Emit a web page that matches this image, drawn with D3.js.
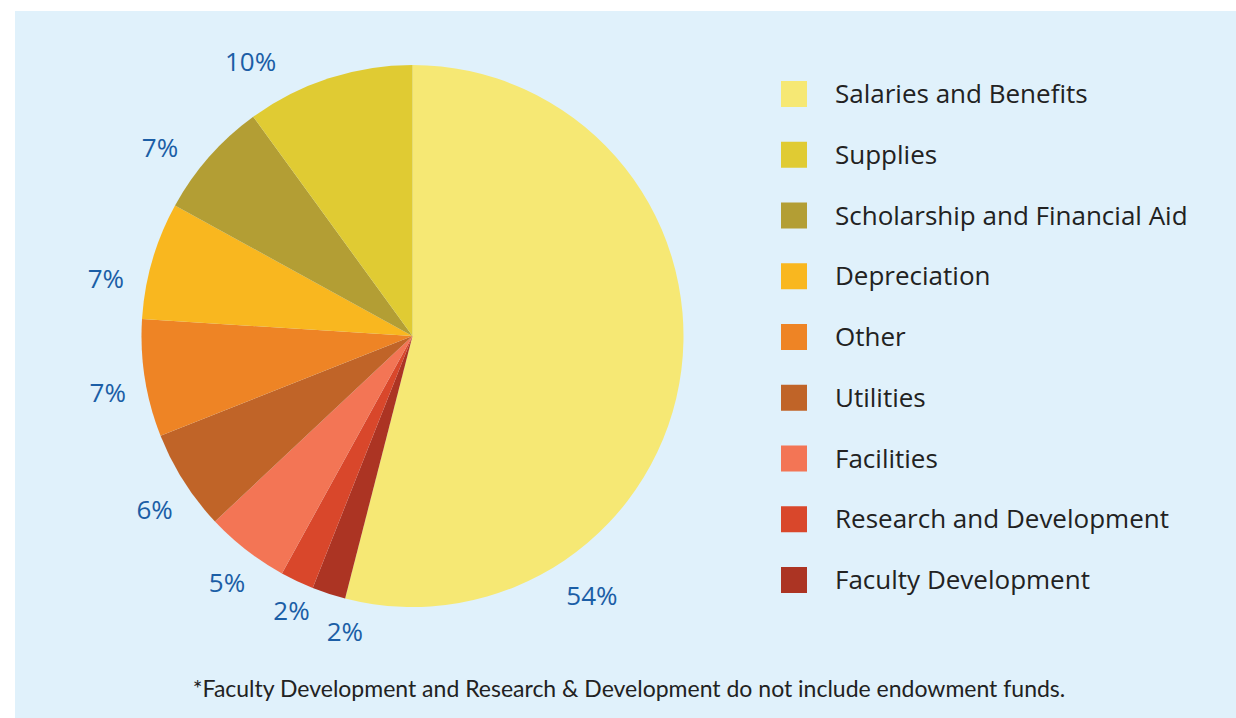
<!DOCTYPE html>
<html>
<head>
<meta charset="utf-8">
<script src="https://cdn.jsdelivr.net/npm/d3@7"></script>
<style>
  html, body { margin: 0; padding: 0; background: #ffffff; }
  svg { display: block; }
  text { font-variant-ligatures: none; }
</style>
</head>
<body>
<svg id="chart" width="1236" height="718"></svg>
<script>
// ---- data (legend order) ----
const categories = [
  "Salaries and Benefits",
  "Supplies",
  "Scholarship and Financial Aid",
  "Depreciation",
  "Other",
  "Utilities",
  "Facilities",
  "Research and Development",
  "Faculty Development"
];
const values = [54, 10, 7, 7, 7, 6, 5, 2, 2];
const colors = ["#f6e874", "#e0cb33", "#b39e34", "#f9b71f", "#ee8425", "#c06428", "#f37555", "#d9472b", "#ac3423"];
// clockwise drawing order around the pie (indices into the arrays above)
const drawOrder = [0, 8, 7, 6, 5, 4, 3, 2, 1];
const footnote = "*Faculty Development and Research & Development do not include endowment funds.";

// ---- layout (label placement tweaks) ----
const labelShiftDeg = [48.2, -12.5, -4.7, -5.6, -1.5, -1.6, -0.9, -1.4, -5.1];
const labelRadius   = [316, 319, 315, 312, 310, 311, 309, 300, 303];

const W = 1236, H = 718;
const svg = d3.select("#chart");

// panel background
svg.append("rect").attr("x", 15).attr("y", 11).attr("width", W - 15).attr("height", H - 11)
  .attr("fill", "#e0f1fb");

const cx = 412.5, cy = 336, R = 271;
const g = svg.append("g").attr("transform", `translate(${cx},${cy})`);

const items = drawOrder.map(i => ({ i, name: categories[i], value: values[i] }));
const pie = d3.pie().sort(null).value(d => d.value);
const arcs = pie(items);
const arc = d3.arc().innerRadius(0).outerRadius(R);

g.selectAll("path.slice").data(arcs).enter().append("path")
  .attr("class", "slice")
  .attr("d", arc)
  .attr("fill", d => colors[d.data.i]);

// percentage labels
g.selectAll("text.pct").data(arcs).enter().append("text")
  .attr("class", "pct")
  .attr("transform", d => {
    const i = d.data.i;
    const a = (d.startAngle + d.endAngle) / 2 + labelShiftDeg[i] * Math.PI / 180;
    const r = labelRadius[i];
    return `translate(${r * Math.sin(a)},${-r * Math.cos(a)})`;
  })
  .attr("text-anchor", "middle")
  .attr("dy", "0.36em")
  .attr("font-family", "'Open Sans', 'Noto Sans', sans-serif")
  .attr("font-size", 26)
  .attr("fill", "#1b5ea6")
  .text(d => d.data.value + "%");

// legend
const ly = d3.scalePoint().domain(categories).range([81, 567]);
const legend = svg.append("g");
const rows = legend.selectAll("g").data(categories).enter().append("g")
  .attr("transform", d => `translate(781,${ly(d)})`);
rows.append("rect").attr("width", 26).attr("height", 26)
  .attr("fill", (d, i) => colors[i]);
rows.append("text")
  .attr("x", 54).attr("y", 22)
  .attr("font-family", "'Open Sans', sans-serif")
  .attr("font-size", 26)
  .attr("fill", "#222222")
  .text(d => d);

// footnote
svg.append("text")
  .attr("x", 629).attr("y", 697)
  .attr("text-anchor", "middle")
  .attr("font-family", "Lato, 'Open Sans', sans-serif")
  .attr("font-size", 23)
  .attr("fill", "#222222")
  .text(footnote);
</script>
</body>
</html>
